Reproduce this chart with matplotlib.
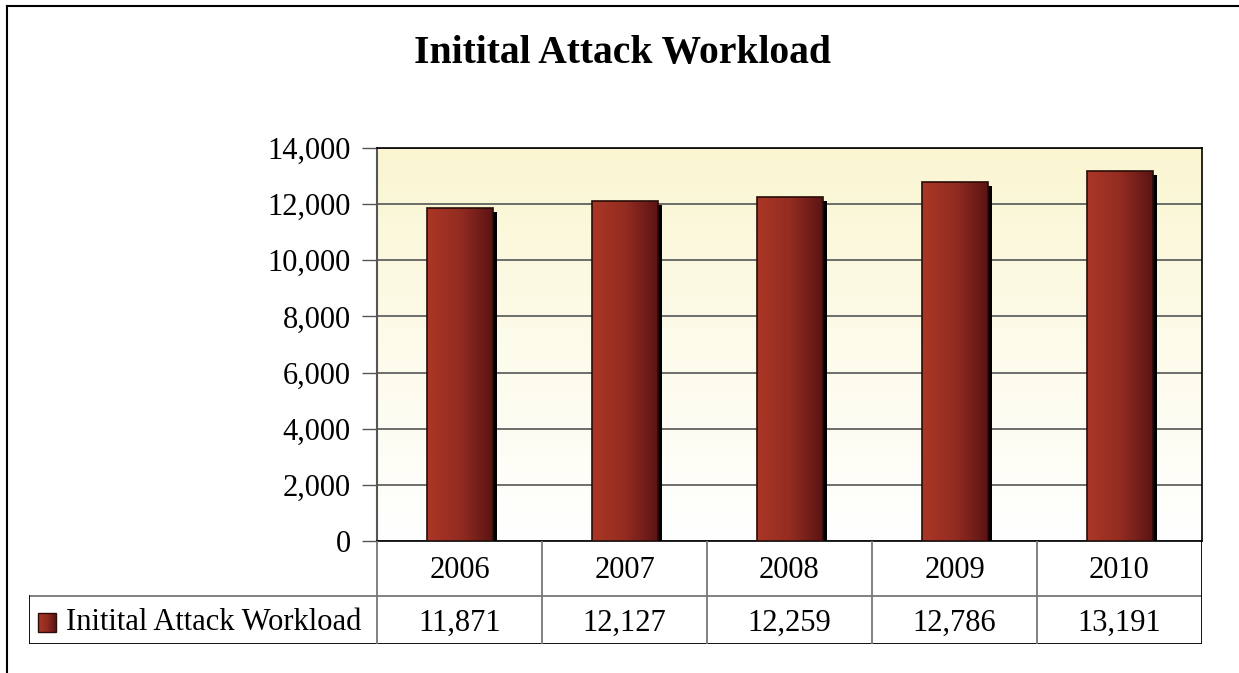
import numpy as np
import matplotlib
matplotlib.use('Agg')
import matplotlib.pyplot as plt
import matplotlib.transforms as mtransforms
from matplotlib.colors import LinearSegmentedColormap
from matplotlib.patches import Rectangle
from matplotlib.lines import Line2D

years = ['2006', '2007', '2008', '2009', '2010']
workload = [11871, 12127, 12259, 12786, 13191]
series_name = 'Initital Attack Workload'
title = 'Initital Attack Workload'
yticks = [0, 2000, 4000, 6000, 8000, 10000, 12000, 14000]

plt.rcParams['font.family'] = ['Liberation Serif', 'DejaVu Serif']
FS = 22

W, H = 1239, 673
fig = plt.figure(figsize=(W / 100, H / 100), dpi=100)

# pixel geometry
px_left, px_right, px_top, px_bottom = 377, 1202, 148, 541
tbl_left, tbl_bottom, tbl_mid = 29, 644, 596

ax = fig.add_axes([px_left / W, (H - px_bottom) / H,
                   (px_right - px_left) / W, (px_bottom - px_top) / H])

x = np.arange(len(years))
ax.set_xlim(-0.5, len(years) - 0.5)
ax.set_ylim(0, 14000)

# plot area background: pale yellow fading to white
bg_cmap = LinearSegmentedColormap.from_list('bg', ['#ffffff', '#fdfbea', '#faf6d2'])
ax.imshow(np.linspace(0, 1, 256).reshape(-1, 1), cmap=bg_cmap, origin='lower',
          extent=[0, 1, 0, 1], transform=ax.transAxes, aspect='auto', zorder=0)

ax.yaxis.grid(True, color='#555555', linewidth=1.2, zorder=1)
ax.set_axisbelow(True)

bar_w = 0.4
bar_cmap = LinearSegmentedColormap.from_list('bar', ['#ab3726', '#932c21', '#5c1414'])
grad = np.linspace(0, 1, 256).reshape(1, -1)

# shadows
shadow_tr = mtransforms.offset_copy(ax.transData, fig=fig, x=4, y=-4, units='dots')
ax.bar(x, workload, width=bar_w, color='black', transform=shadow_tr, zorder=2)

bars = ax.bar(x, workload, width=bar_w, color='none', edgecolor='#2a0c08',
              linewidth=1.2, zorder=4)
for b in bars:
    x0, w, h = b.get_x(), b.get_width(), b.get_height()
    im = ax.imshow(grad, cmap=bar_cmap, extent=[x0, x0 + w, 0, h],
                   aspect='auto', zorder=3)
    im.set_clip_path(b)

ax.set_yticks(yticks)
ax.set_yticklabels([f'{v:,}' for v in yticks])
ax.tick_params(axis='y', direction='out', length=11, width=1, color='#555555',
               labelsize=FS, pad=8)
ax.set_xticks([])
for s in ['top', 'right']:
    ax.spines[s].set_color('black')
    ax.spines[s].set_linewidth(1.2)
ax.spines['left'].set_color('#555555')
ax.spines['left'].set_linewidth(1.5)
ax.spines['bottom'].set_color('black')
ax.spines['bottom'].set_linewidth(1.2)

# data table below the chart
tax = fig.add_axes([tbl_left / W, (H - tbl_bottom) / H,
                    (px_right - tbl_left) / W, (tbl_bottom - px_bottom) / H])
cat_px = (px_right - px_left) / len(years)
xl = -0.5 - (px_left - tbl_left) / cat_px
row_sep = tbl_bottom - tbl_mid
top = tbl_bottom - px_bottom
tax.axis('off')
inner = dict(color='#777777', linewidth=1.3)
outer = dict(color='black', linewidth=1.3)
tax.add_line(Line2D([xl, len(years) - 0.5], [row_sep, row_sep], **inner))
tax.add_line(Line2D([xl, len(years) - 0.5], [0, 0], **outer))
tax.add_line(Line2D([xl, xl], [0, row_sep], **outer))
for i in range(len(years)):
    tax.add_line(Line2D([i - 0.5, i - 0.5], [0, top], **inner))
tax.add_line(Line2D([len(years) - 0.5] * 2, [0, top], **outer))

for i, (yr, v) in enumerate(zip(years, workload)):
    tax.text(i, row_sep + (top - row_sep) / 2 - 2, yr, ha='center', va='center', fontsize=FS)
    tax.text(i, row_sep / 2 - 3, f'{v:,}', ha='center', va='center', fontsize=FS)

# legend key inside the table
key_x0 = xl + 9 / cat_px
key_w = 18 / cat_px
kr = Rectangle((key_x0, row_sep / 2 - 12), key_w, 19, facecolor='none',
               edgecolor='#2a0c08', linewidth=1, zorder=4)
tax.add_patch(kr)
kim = tax.imshow(grad, cmap=bar_cmap, extent=[key_x0, key_x0 + key_w, row_sep / 2 - 12, row_sep / 2 + 7],
                 aspect='auto', zorder=3)
kim.set_clip_path(kr)
tax.set_xlim(xl, len(years) - 0.5)
tax.set_ylim(0, top)
tax.text(key_x0 + key_w + 10 / cat_px, row_sep / 2 - 3, series_name,
         ha='left', va='center', fontsize=FS)

# chart title
fig.text(623 / W, 1 - 54 / H, title, ha='center', va='center',
         fontsize=28.5, fontweight='bold')

# outer chart border (left and top visible)
fig.add_artist(Line2D([7 / W, 7 / W], [0, 1 - 6 / H], transform=fig.transFigure,
                      color='black', linewidth=1.5))
fig.add_artist(Line2D([7 / W, 1], [1 - 6 / H, 1 - 6 / H], transform=fig.transFigure,
                      color='black', linewidth=1.5))

fig.savefig('out.png', dpi=100)
